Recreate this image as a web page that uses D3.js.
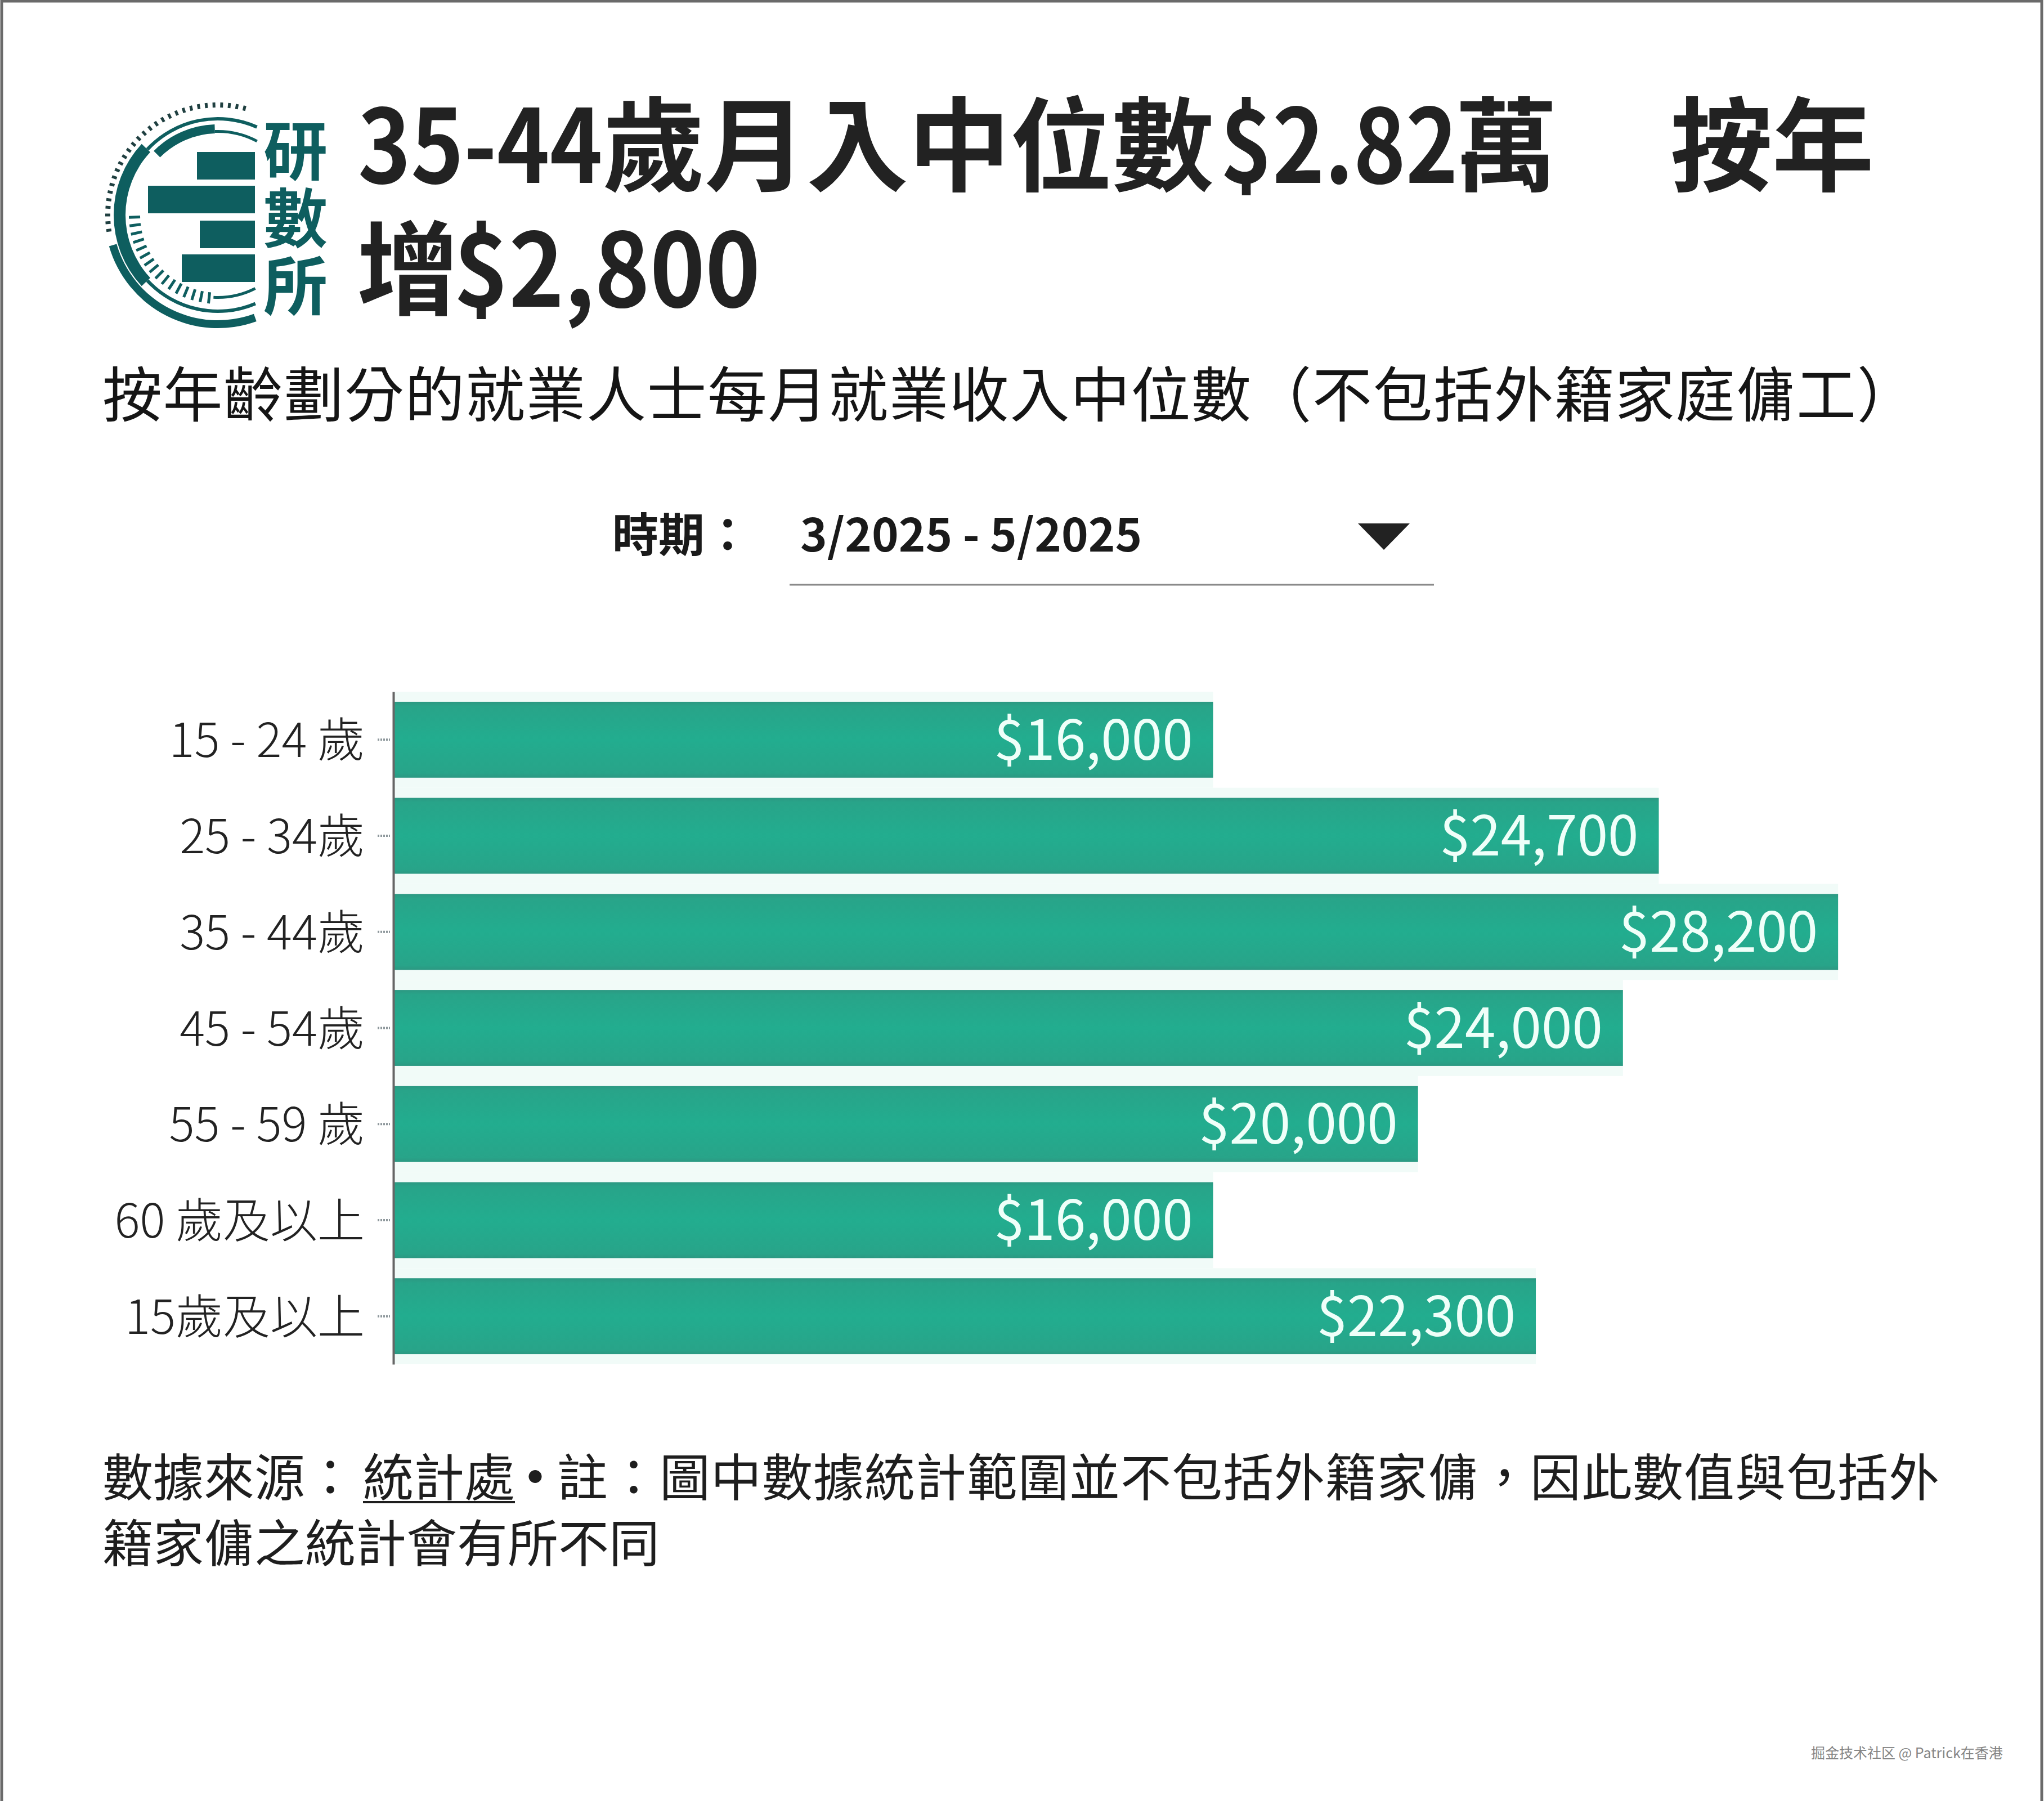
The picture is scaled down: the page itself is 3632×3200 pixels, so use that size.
<!DOCTYPE html>
<html lang="zh-Hant">
<head>
<meta charset="UTF-8">
<title>35-44歲月入中位數$2.82萬</title>
<script src="https://d3js.org/d3.v7.min.js"></script>
<style>
  body { margin: 0; background: #fff; }
  svg { display: block; font-family: "Noto Sans CJK TC", "Noto Sans CJK SC", sans-serif; }
</style>
</head>
<body>
<svg id="chart" width="3632" height="3200"></svg>
<script>
  // data
  const ageGroups = ["15 - 24 歲", "25 - 34歲", "35 - 44歲", "45 - 54歲", "55 - 59 歲", "60 歲及以上", "15歲及以上"];
  const medianIncome = [16000, 24700, 28200, 24000, 20000, 16000, 22300];
  const period = "3/2025 - 5/2025";

  const rows = ageGroups.map((g, i) => ({group: g, value: medianIncome[i]}));

  const W = 3632, H = 3200;
  const svg = d3.select("#chart");

  svg.append("rect").attr("width", W).attr("height", H).attr("fill", "#fff");
  // grey frame of the screenshot
  svg.append("rect")
    .attr("x", 3).attr("y", 2).attr("width", W - 7).attr("height", H + 20)
    .attr("fill", "none").attr("stroke", "#6a6a6a").attr("stroke-width", 5);

  // ---- logo ----
  const teal = "#0e5e5f";
  const deg = Math.PI / 180;
  const logo = svg.append("g").attr("transform", "translate(387,382)");
  const arc = d3.arc();
  const logoArcs = [
    {r0: 187, r1: 201, a0: 160, a1: 254},  // outer thick, bottom-left
    {r0: 164, r1: 185, a0: 227, a1: 313},  // left thick
    {r0: 168, r1: 174, a0: 313, a1: 384},  // thin top
    {r0: 168, r1: 174, a0: 157, a1: 227},  // thin bottom
    {r0: 145, r1: 161, a0: 315, a1: 358},  // inner thick top
    {r0: 146, r1: 151, a0: 358, a1: 388},  // inner thin top right
    {r0: 144, r1: 149, a0: 153, a1: 183}   // inner thin bottom right
  ];
  logo.selectAll("path.ring")
    .data(logoArcs)
    .join("path")
    .attr("class", "ring")
    .attr("fill", teal)
    .attr("d", d => arc({innerRadius: d.r0, outerRadius: d.r1, startAngle: d.a0 * deg, endAngle: d.a1 * deg, cornerRadius: 3}));

  // outer dotted ring
  logo.selectAll("rect.dot")
    .data(d3.range(262, 378, 4))
    .join("rect")
    .attr("class", "dot")
    .attr("x", -2.5).attr("y", -200).attr("width", 5).attr("height", 9)
    .attr("fill", "#1f3f40")
    .attr("transform", d => `rotate(${d})`);

  // inner dashes
  logo.selectAll("rect.dash")
    .data(d3.range(186, 272, 5.5))
    .join("rect")
    .attr("class", "dash")
    .attr("x", -2.5).attr("y", -158).attr("width", 5).attr("height", 20)
    .attr("fill", teal)
    .attr("transform", d => `rotate(${d})`);

  // logo bars
  const logoBars = [[-37, -112, 103], [-124, -52, 190], [-32, 10, 98], [-64, 70, 130]];
  logo.selectAll("rect.lb")
    .data(logoBars)
    .join("rect")
    .attr("class", "lb")
    .attr("x", d => d[0]).attr("y", d => d[1])
    .attr("width", d => d[2]).attr("height", 49)
    .attr("fill", teal);

  ["研", "數", "所"].forEach((c, i) => {
    svg.append("text")
      .attr("x", 525).attr("y", 310 + i * 120)
      .attr("font-size", 114).attr("font-weight", 700).attr("fill", teal)
      .attr("text-anchor", "middle")
      .text(c);
  });

  // ---- title ----
  const titleParts = [
    {t: "35-44", x: 636, y: 325, sx: 0.88},
    {t: "歲月入中位數", x: 1071, y: 325, sx: 1},
    {t: "$2.82", x: 2168, y: 325, sx: 0.87},
    {t: "萬", x: 2586, y: 325, sx: 1},
    {t: "按年", x: 2968, y: 325, sx: 1},
    {t: "增", x: 634, y: 545, sx: 1},
    {t: "$2,800", x: 806, y: 545, sx: 0.92}
  ];
  svg.append("g").selectAll("text")
    .data(titleParts)
    .join("text")
    .attr("transform", d => `translate(${d.x},${d.y}) scale(${d.sx},1)`)
    .attr("font-size", 181).attr("font-weight", 700).attr("fill", "#222")
    .text(d => d.t);

  svg.append("text")
    .attr("x", 182).attr("y", 740)
    .attr("font-size", 106).attr("letter-spacing", 1.5).attr("fill", "#151515")
    .text("按年齡劃分的就業人士每月就業收入中位數（不包括外籍家庭傭工）");

  // ---- period selector ----
  svg.append("text")
    .attr("x", 1088).attr("y", 980)
    .attr("font-size", 82).attr("font-weight", 700).attr("fill", "#1a1a1a")
    .text("時期：");
  svg.append("text")
    .attr("x", 1422).attr("y", 980)
    .attr("font-size", 81).attr("font-weight", 700).attr("fill", "#1a1a1a")
    .text(period);
  svg.append("path")
    .attr("d", "M2413,930L2505,930L2459,977Z")
    .attr("fill", "#222");
  svg.append("line")
    .attr("x1", 1403).attr("x2", 2548).attr("y1", 1039).attr("y2", 1039)
    .attr("stroke", "#8a8a8a").attr("stroke-width", 3);

  // ---- bar chart ----
  const y = d3.scaleBand()
    .domain(ageGroups)
    .range([1229, 2424])
    .paddingInner(0.21)
    .paddingOuter(0.105);

  const x = d3.scaleLinear()
    .domain([0, 30000])
    .range([699, 3430]);

  const defs = svg.append("defs");
  const grad = defs.append("linearGradient")
    .attr("id", "barGrad").attr("x1", 0).attr("x2", 0).attr("y1", 0).attr("y2", 1);
  [[0, "#2c9882"], [0.06, "#28a489"], [0.5, "#22ad8f"], [0.94, "#28a489"], [1, "#2c9882"]]
    .forEach(s => grad.append("stop").attr("offset", s[0]).attr("stop-color", s[1]));

  const gap = y.step() - y.bandwidth();

  // faint mint halo around bars
  svg.append("g").selectAll("rect")
    .data(rows)
    .join("rect")
    .attr("x", x(0))
    .attr("y", d => y(d.group) - gap / 2)
    .attr("width", d => x(d.value) - x(0))
    .attr("height", y.bandwidth() + gap)
    .attr("fill", "#f1fbf8");

  svg.append("g").selectAll("rect")
    .data(rows)
    .join("rect")
    .attr("x", x(0))
    .attr("y", d => y(d.group))
    .attr("width", d => x(d.value) - x(0))
    .attr("height", y.bandwidth())
    .attr("fill", "url(#barGrad)");

  svg.append("g").selectAll("text")
    .data(rows)
    .join("text")
    .attr("x", d => x(d.value) - 36)
    .attr("y", d => y(d.group) + y.bandwidth() / 2)
    .attr("dy", "0.36em")
    .attr("text-anchor", "end")
    .attr("font-size", 98)
    .attr("fill", "#effff9")
    .text(d => "$" + d3.format(",")(d.value));

  const yAxis = svg.append("g")
    .attr("transform", `translate(${x(0)},0)`)
    .call(d3.axisLeft(y).tickSize(0).tickSizeOuter(0).tickPadding(51));

  yAxis.select(".domain").attr("stroke", "#666").attr("stroke-width", 4);
  yAxis.selectAll(".tick text")
    .attr("font-family", "\"Noto Sans CJK TC\", sans-serif")
    .attr("font-size", 84)
    .attr("font-weight", 300)
    .attr("fill", "#222")
    .attr("dy", "0.37em");
  yAxis.selectAll(".tick").append("line")
    .attr("x1", -28).attr("x2", -6)
    .attr("stroke", "#8d979b").attr("stroke-width", 4)
    .attr("stroke-dasharray", "3 2");

  // ---- footnote ----
  const foot = svg.append("g").attr("font-size", 90).attr("fill", "#1e1e1e");
  foot.append("text").attr("x", 182).attr("y", 2658).text("數據來源：");
  foot.append("text").attr("x", 645).attr("y", 2658).text("統計處");
  foot.append("line")
    .attr("x1", 645).attr("x2", 915).attr("y1", 2669).attr("y2", 2669)
    .attr("stroke", "#1e1e1e").attr("stroke-width", 4);
  foot.append("text").attr("x", 951).attr("y", 2658).attr("text-anchor", "middle")
    .attr("font-weight", 700).text("•");
  foot.append("text").attr("x", 990).attr("y", 2658).attr("letter-spacing", 1)
    .text("註：圖中數據統計範圍並不包括外籍家傭，因此數值與包括外");
  foot.append("text").attr("x", 182).attr("y", 2775)
    .text("籍家傭之統計會有所不同");

  // watermark
  svg.append("text")
    .attr("x", 3218).attr("y", 3124)
    .attr("font-family", "\"Noto Sans CJK SC\", sans-serif")
    .attr("font-size", 25)
    .attr("fill", "#858585")
    .text("掘金技术社区 @ Patrick在香港");
</script>
</body>
</html>
